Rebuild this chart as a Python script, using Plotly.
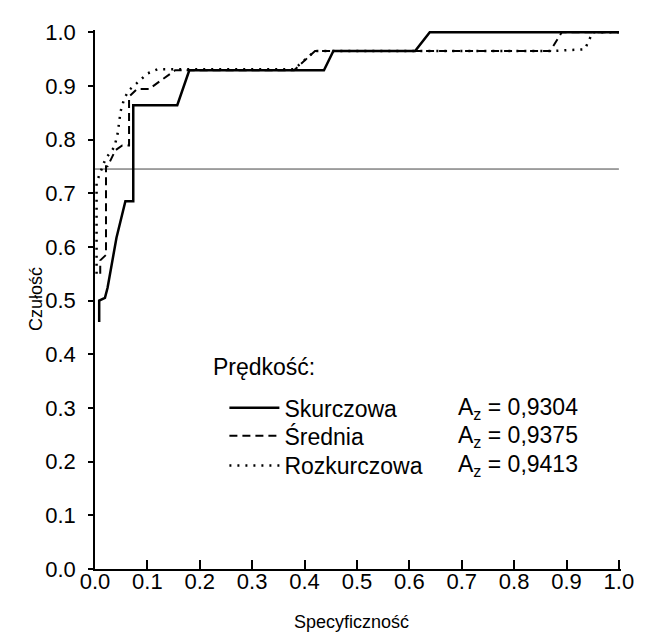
import plotly.graph_objects as go

# ---- data ----
tick_vals = [0.0, 0.1, 0.2, 0.3, 0.4, 0.5, 0.6, 0.7, 0.8, 0.9, 1.0]
tick_text = ["0.0", "0.1", "0.2", "0.3", "0.4", "0.5", "0.6", "0.7", "0.8", "0.9", "1.0"]

series_names = ["Skurczowa", "Średnia", "Rozkurczowa"]
az_values = ["0,9304", "0,9375", "0,9413"]

sk_x = [0.008, 0.008, 0.019, 0.024, 0.041, 0.058, 0.073, 0.073, 0.157, 0.18, 0.437, 0.455, 0.611, 0.639, 1.0]
sk_y = [0.46, 0.50, 0.505, 0.524, 0.617, 0.685, 0.685, 0.864, 0.864, 0.929, 0.929, 0.965, 0.965, 1.0, 1.0]

sr_x = [0.01, 0.01, 0.021, 0.021, 0.024, 0.039, 0.052, 0.065, 0.065, 0.08, 0.103, 0.153, 0.38, 0.42, 0.869, 0.891, 1.0]
sr_y = [0.55, 0.575, 0.585, 0.75, 0.75, 0.78, 0.789, 0.789, 0.88, 0.894, 0.894, 0.929, 0.929, 0.965, 0.965, 1.0, 1.0]

rz_x = [0.003, 0.003, 0.02, 0.037, 0.043, 0.049, 0.056, 0.065, 0.08, 0.1, 0.12, 0.38, 0.42, 0.873, 0.935, 0.95, 1.0]
rz_y = [0.55, 0.72, 0.764, 0.786, 0.81, 0.853, 0.877, 0.892, 0.905, 0.923, 0.931, 0.931, 0.965, 0.965, 0.968, 1.0, 1.0]

ref_x = [0.0, 1.0]
ref_y = [0.745, 0.745]

FONT = "Liberation Sans, Arial, sans-serif"
row_y = [0.299, 0.247, 0.192]

fig = go.Figure()
fig.add_trace(go.Scatter(x=ref_x, y=ref_y, mode="lines", showlegend=False,
                         line=dict(color="#444", width=1), hoverinfo="skip"))
fig.add_trace(go.Scatter(x=sk_x, y=sk_y, mode="lines", name=series_names[0], legend="legend",
                         line=dict(color="black", width=2.5)))
fig.add_trace(go.Scatter(x=sr_x, y=sr_y, mode="lines", name=series_names[1], legend="legend2",
                         line=dict(color="black", width=2, dash="8px,5px")))
fig.add_trace(go.Scatter(x=rz_x, y=rz_y, mode="lines", name=series_names[2], legend="legend3",
                         line=dict(color="black", width=2.5, dash="2px,6px")))

axis_common = dict(tickvals=tick_vals, ticktext=tick_text, showgrid=False,
                   zeroline=False, showline=True, linecolor="black", linewidth=1.5,
                   tickcolor="black", tickwidth=1.5,
                   tickfont=dict(family=FONT, size=22, color="black"))

leg_common = dict(x=0.246, xanchor="left", yanchor="middle",
                  bgcolor="rgba(0,0,0,0)", itemwidth=50,
                  font=dict(family=FONT, size=23, color="black"))

# the page body adds an 8px margin, so the figure is offset by 8px in the window
fig.update_layout(
    width=638, height=630,
    margin=dict(l=87, r=18, t=15, b=69),
    paper_bgcolor="white", plot_bgcolor="white",
    font=dict(family=FONT, color="black"),
    xaxis=dict(**axis_common, range=[0, 1.004], ticks="inside", ticklen=9,
               ticklabelstandoff=-8),
    yaxis=dict(**axis_common, range=[0, 1.004], ticks="outside", ticklen=5,
               ticklabelstandoff=8),
    yaxis2=dict(overlaying="y", range=[0, 1.004], tickvals=tick_vals, showticklabels=False,
                ticks="inside", ticklen=5, tickcolor="black", tickwidth=1.5,
                showgrid=False, zeroline=False, showline=False),
    showlegend=True,
    legend=dict(**leg_common, y=row_y[0]),
    legend2=dict(**leg_common, y=row_y[1]),
    legend3=dict(**leg_common, y=row_y[2]),
)

fig.add_annotation(x=0.221, y=0.376, xref="x", yref="y", xanchor="left", yanchor="middle",
                   showarrow=False, text="Prędkość:",
                   font=dict(family=FONT, size=23, color="black"))

for i, v in enumerate(az_values):
    fig.add_annotation(x=0.69, y=row_y[i], xref="x", yref="y",
                       xanchor="left", yanchor="middle", showarrow=False,
                       text="A<sub>z</sub> = " + v,
                       font=dict(family=FONT, size=23, color="black"))

fig.add_annotation(x=0.49, y=-0.098, xref="x", yref="paper", showarrow=False,
                   text="Specyficzność", yanchor="middle",
                   font=dict(family=FONT, size=18, color="black"))
fig.add_annotation(x=-0.113, y=0.5, xref="paper", yref="paper", showarrow=False,
                   text="Czułość", textangle=-90, xanchor="center",
                   font=dict(family=FONT, size=18, color="black"))

fig.write_html("out.html")
